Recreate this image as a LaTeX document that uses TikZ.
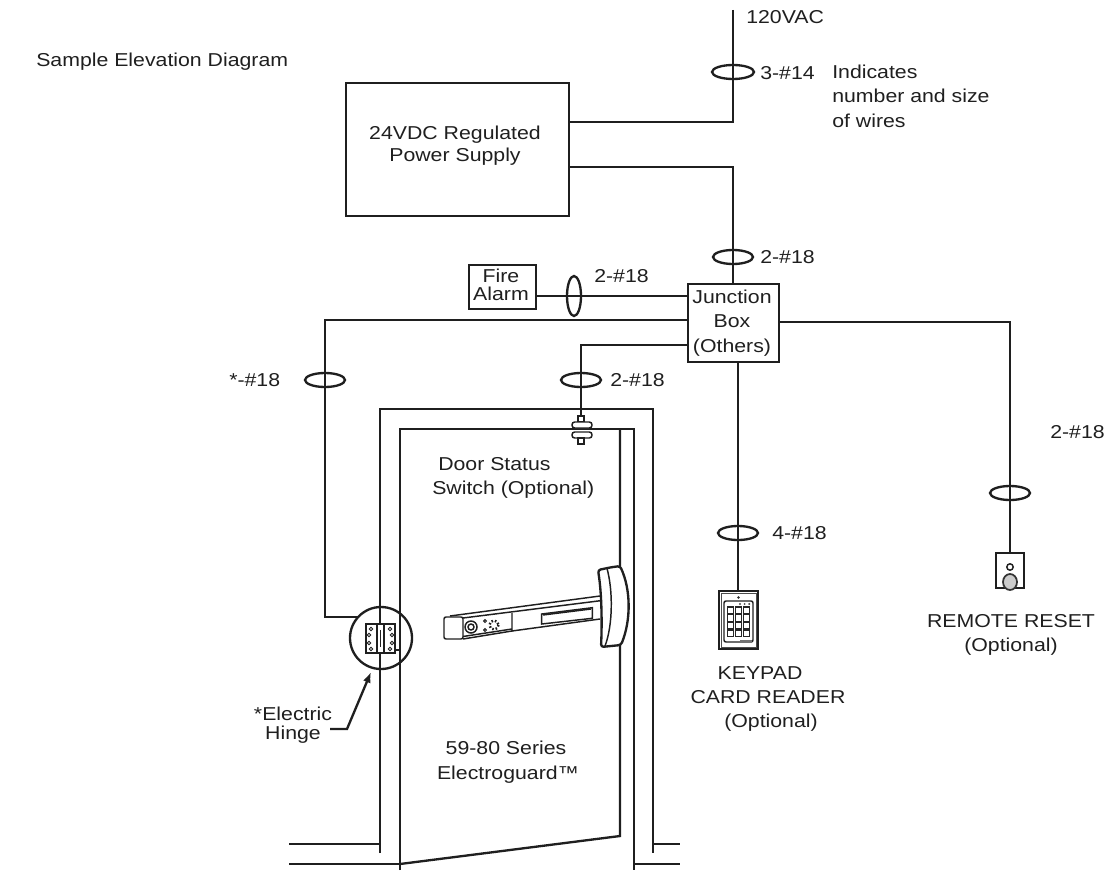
\documentclass[tikz,border=0pt]{standalone}
\usepackage{fontspec}
\setmainfont[FakeStretch=1.14]{Liberation Sans}
\usetikzlibrary{arrows.meta}
\tikzset{
  wire/.style={line width=1.75pt, black!88},
  thinline/.style={line width=1.1pt, black!88},
  wiretag/.style={line width=1.75pt, black!88, fill=none},
  lbl/.style={inner sep=0pt, font=\fontsize{14}{18.3}\selectfont, align=center, black!88},
  lblleft/.style={lbl, anchor=west, align=left},
}
\begin{document}
\begin{tikzpicture}[x=0.75pt, y=-0.75pt]
  \useasboundingbox (0,0) rectangle (1105,870);

  % boxes
  \node [wire, draw, minimum width=167.25pt, minimum height=99.75pt, anchor=north west, inner sep=0pt] (psu) at (345,82) {};
  \node [wire, draw, minimum width=50.25pt, minimum height=33pt, anchor=north west, inner sep=0pt] (alarm) at (468,263.5) {};
  \node [wire, draw, minimum width=68.25pt, minimum height=58.5pt, anchor=north west, inner sep=0pt] (jbox) at (687,283) {};
  \node [lbl] at (455,146) {24VDC Regulated\\[-2pt]Power Supply};
  \node [lbl] at (501,285) {Fire\\[-5pt]Alarm};
  \node [lbl] at (732,323) {Junction\\Box\\(Others)};

  % wires
  \coordinate (mains) at (733,10);
  \coordinate (psua) at (psu.north east |- 0,122);
  \coordinate (psub) at (psu.north east |- 0,167);
  \draw [wire] (mains) -- (733,122) -- (psua);
  \draw [wire] (psub) -- (733,167) -- (jbox.north -| 733,0);
  \draw [wire] (alarm.east |- 0,296) -- (jbox.west |- 0,296);
  \draw [wire] (jbox.west |- 0,320) -- (325,320) -- (325,617) -- (358,617);
  \draw [wire] (jbox.west |- 0,345) -- (581,345) -- (581,416);
  \draw [wire] (jbox.east |- 0,322) -- (1010,322) -- (1010,553);
  \draw [wire] (738,361) -- (738,591);

  % wire tags
  \draw [wiretag] (733,72) ellipse [x radius=21, y radius=7];
  \draw [wiretag] (733,257) ellipse [x radius=20, y radius=7];
  \draw [wiretag] (574,296) ellipse [x radius=7, y radius=20];
  \draw [wiretag] (325,380) ellipse [x radius=20, y radius=7];
  \draw [wiretag] (581,380) ellipse [x radius=20, y radius=7];
  \draw [wiretag] (738,533) ellipse [x radius=20, y radius=7];
  \draw [wiretag] (1010,493) ellipse [x radius=20, y radius=7];

  % door and frame
  \draw [wire] (289,844) -- (380,844);
  \draw [wire] (380,853) -- (380,409) -- (653,409) -- (653,853);
  \draw [wire] (653,844) -- (680,844);
  \draw [wire] (289,864) -- (400,864);
  \draw [wire] (400,870) -- (400,429) -- (634,429) -- (634,870);
  \draw [wire] (634,864) -- (680,864);
  \draw [wire] (620,429) -- (620,836) -- (400,864);

  % door status switch
  \draw [thinline, fill=white] (578,416) rectangle (584,422);
  \draw [thinline, fill=white, rounded corners=2pt] (572,422) rectangle (592,428);
  \draw [thinline, fill=white, rounded corners=2pt] (572,432) rectangle (592,438);
  \draw [thinline, fill=white] (578,438) rectangle (584,444);

  % hinge
  \draw [wire] (381,638) circle [radius=31];
  \draw [wire, fill=white] (366,624) rectangle (395,653);
  \draw [thinline] (377,624) -- (377,653) (384,624) -- (384,653);
  \draw [thinline] (380.5,630) -- (380.5,647);
  \foreach \hx/\hy in {371/629, 390/629, 369/635, 392/635, 369/643, 392/643, 371/649, 390/649}
    \draw [line width=0.7pt, black!88] (\hx,\hy) circle [radius=1.7];
  \draw [wire] (395,650) -- (400,650);

  % hinge leader
  \coordinate (hingetip) at (371,672);
  \draw [wire, -{Latex[length=8pt,width=6pt]}] (330,729) -- (347,729) -- (hingetip);
  \node [lbl] at (293,725) {*Electric\\[-4pt]Hinge};

  % exit device
  \draw [thinline, fill=white, rounded corners=1.5pt] (444,617) rectangle (463,639);
  \draw [thinline] (450,616) -- (600,596) -- (606,600) -- (463,618);
  \draw [thinline] (463,639) -- (512,631) -- (512,613);
  \draw [thinline] (463,636.5) -- (512,629);
  \draw [thinline] (512,631) -- (600,619);
  \draw [thinline] (541.7,614) -- (592.3,607.7) -- (592.3,618.3) -- (541.7,624) -- cycle;
  \draw [thinline] (543,615) -- (591,609);
  \draw [thinline] (471,627) circle [radius=6];
  \draw [thinline] (471,627) circle [radius=3];
  \foreach \dx/\dy in {485/621, 485/630}
    \draw [line width=0.7pt, black!88] (\dx,\dy) circle [radius=1.4];
  \draw [line width=1.8pt, dash pattern=on 1.2pt off 1.5pt, black!88] (494,625) circle [radius=4.5];
  \draw [wire, fill=white, rounded corners=2pt] (610,567.5) -- (620,566)
    .. controls (631,590) and (631,620) .. (621,645) -- (601,647)
    .. controls (602,625) and (602,595) .. (598,570) -- cycle;
  \draw [thinline] (607,568.5) .. controls (613,590) and (613,625) .. (605,646);

  % keypad
  \draw [thinline] (719,591) rectangle (758,649);
  \draw [line width=0.7pt, black!70] (721,593) rectangle (756,647);
  \draw [thinline, rounded corners=1.5pt] (724,601) rectangle (753,642);
  \fill [black!85] (738.5,597.5) circle [radius=1.3];
  \foreach \kr in {0,1,2,3}
    \foreach \kc in {0,1,2}
      \draw [line width=0.9pt, black!85] (727.5+\kc*7.8,607+\kr*7.8) rectangle +(6,6.4);
  \foreach \kc in {0,1,2}
    \fill [black!70] (740+\kc*4.6,604) circle [radius=1.1];
  \fill [black!55] (740,640) rectangle (752,643);

  % reset station
  \draw [wire] (996,553) rectangle (1024,588);
  \draw [thinline] (1010,567) circle [radius=3.2];
  \draw [line width=1.3pt, black!80, fill=black!20] (1010,582) ellipse [x radius=7, y radius=8];

  % labels
  \node [lblleft] at (36,62) {Sample Elevation Diagram};
  \node [lblleft] at (746,17) {120VAC};
  \node [lblleft] at (760,73) {3-\#14};
  \node [lblleft] at (832,96) {Indicates\\number and size\\of wires};
  \node [lblleft] at (760,257) {2-\#18};
  \node [lblleft] at (594,276) {2-\#18};
  \node [lblleft] at (229,380) {*-\#18};
  \node [lblleft] at (610,380) {2-\#18};
  \node [lblleft] at (772,533) {4-\#18};
  \node [lblleft] at (1050,432) {2-\#18};
  \node [lblleft] at (432,478) {\hspace*{4.5pt}Door Status\\Switch (Optional)};
  \node [lbl] at (768,699) {KEYPAD\hspace*{12pt}\\CARD READER\\\hspace*{4.5pt}(Optional)};
  \node [lbl] at (1011,635) {REMOTE RESET\\(Optional)};
  \node [lbl] at (508,762) {59-80 Series\hspace*{3pt}\\Electroguard™};
\end{tikzpicture}
\end{document}
